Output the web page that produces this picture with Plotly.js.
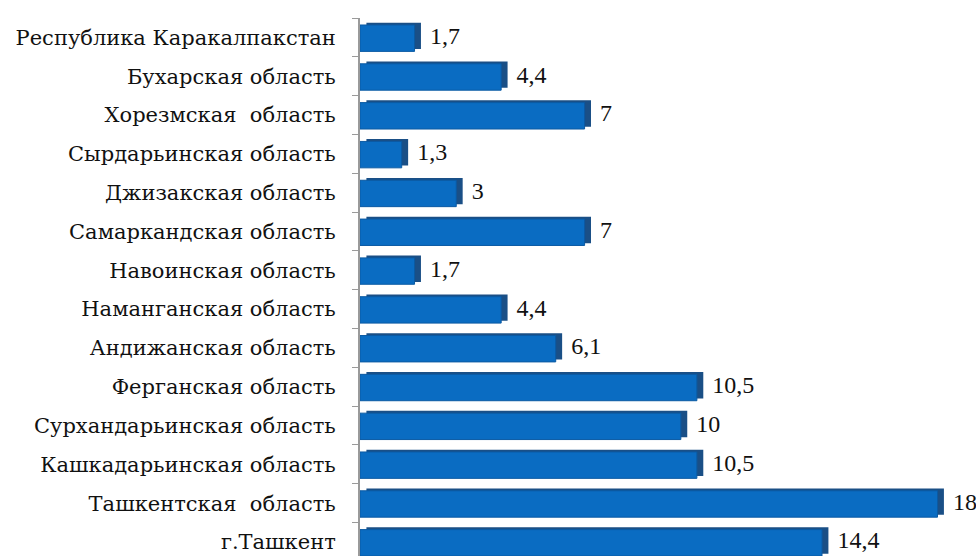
<!DOCTYPE html>
<html>
<head>
<meta charset="utf-8">
<script src="https://cdn.plot.ly/plotly-3.0.1.min.js"></script>
<style>html,body{margin:0;padding:0;background:#fff;}#chart{width:976px;height:556px;}</style>
</head>
<body>
<div id="chart"></div>
<script>
const regions = [
  "Республика Каракалпакстан",
  "Бухарская область",
  "Хорезмская  область",
  "Сырдарьинская область",
  "Джизакская область",
  "Самаркандская область",
  "Навоинская область",
  "Наманганская область",
  "Андижанская область",
  "Ферганская область",
  "Сурхандарьинская область",
  "Кашкадарьинская область",
  "Ташкентская  область",
  "г.Ташкент"
];
const values = [1.7, 4.4, 7, 1.3, 3, 7, 1.7, 4.4, 6.1, 10.5, 10, 10.5, 18, 14.4];
const valueLabels = values.map(v => '\u00A0' + String(v).replace('.', ','));

const sideFace = {
  type: 'bar', orientation: 'h',
  y: regions, x: values, base: 0.2,
  width: 0.68, offset: -0.38,
  marker: {color: '#1A4F86', line: {width: 0}},
  text: valueLabels, textposition: 'outside', cliponaxis: false,
  textfont: {family: 'Liberation Serif', size: 24, color: '#111'},
  hoverinfo: 'skip', showlegend: false
};
const front = {
  type: 'bar', orientation: 'h',
  y: regions, x: values,
  width: 0.68, offset: -0.32,
  marker: {color: '#0A6CC2', line: {color: '#0B5AA3', width: 1}},
  hoverinfo: 'skip', showlegend: false
};

const layout = {
  width: 976, height: 556,
  margin: {l: 360, r: 0, t: 18, b: 0},
  paper_bgcolor: '#fff', plot_bgcolor: '#fff',
  barmode: 'overlay',
  xaxis: {range: [0, 19.2], visible: false, showgrid: false, zeroline: false},
  yaxis: {
    type: 'category', range: [13.36, -0.5],
    showline: true, linecolor: '#9A9A9A', linewidth: 2,
    ticks: 'outside', ticklen: 6, tickcolor: '#9A9A9A', tickson: 'boundaries',
    ticklabelstandoff: 18,
    tickfont: {family: 'DejaVu Serif', size: 21, color: '#111'},
    showgrid: false, zeroline: false
  }
};
Plotly.newPlot('chart', [sideFace, front], layout, {displayModeBar: false});
</script>
</body>
</html>
